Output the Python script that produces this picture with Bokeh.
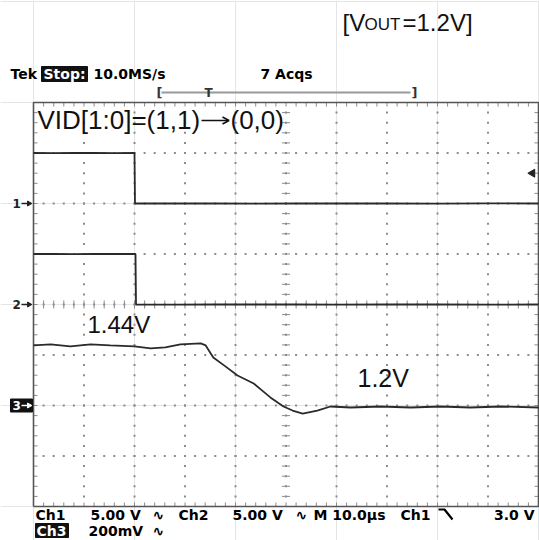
import numpy as np
from bokeh.plotting import figure
from bokeh.models import Range1d
from bokeh.core.properties import value
from bokeh.embed import file_html
from bokeh.resources import INLINE

# ---------------- data (time in microseconds, voltages in volts) ----------------
ch1_t = [-20.0, -16.0, -12.0, -8.0, -4.0, 0.0, 0.1, 8.0, 16.0, 24.0, 32.0, 40.0, 50.0, 60.0, 70.0, 80.0]
ch1_v = [5.0, 4.98, 5.02, 5.0, 4.98, 5.0, 0.0, 0.02, 0.0, -0.02, 0.0, 0.02, 0.0, -0.02, 0.02, 0.0]

ch2_t = [-20.0, -16.0, -12.0, -8.0, -4.0, 0.2, 0.3, 8.0, 16.0, 24.0, 32.0, 40.0, 50.0, 60.0, 70.0, 80.0]
ch2_v = [5.0, 5.02, 4.98, 5.0, 5.02, 5.0, 0.0, -0.02, 0.02, 0.0, 0.02, -0.02, 0.0, 0.02, -0.02, 0.0]

ch3_t = [-20.0, -16.6, -12.7, -8.7, -4.8, 0.0, 3.2, 6.1, 9.1, 13.1, 14.1, 15.6, 18.0, 20.4,
         23.6, 25.3, 26.9, 29.5, 31.3, 33.3, 36.2, 38.8, 42.8, 48.7, 54.7, 60.6, 66.5, 72.5, 80.0]
ch3_v = [1.438, 1.442, 1.434, 1.442, 1.438, 1.434, 1.426, 1.430, 1.442, 1.446, 1.438, 1.390, 1.355, 1.319,
         1.287, 1.259, 1.232, 1.196, 1.180, 1.168, 1.180, 1.196, 1.192, 1.196, 1.192, 1.196, 1.192, 1.196, 1.192]

# scope settings
ch1_scale, ch1_pos = 5.0, 6.0      # V/div, marker division
ch2_scale, ch2_pos = 5.0, 4.0
ch3_scale, ch3_pos, ch3_ref = 0.2, 2.0, 1.2
time_per_div, t_left = 10.0, -20.0
n_xdiv, n_ydiv = 10, 8
trig_level = 3.0

# ---------------- helpers for placing decoration text (pixel -> data) ----------------
def RX(px):
    return t_left + (px - 33.0) / 5.05

def RY(py):
    return (506.0 - py) / 50.5

W, H = 539, 540
p = figure(width=W, height=H, output_backend="svg", toolbar_location=None,
           x_axis_location=None, y_axis_location=None, min_border=0,
           x_range=Range1d(RX(0.0), RX(539.0)), y_range=Range1d(RY(540.0), RY(0.0)))
p.outline_line_color = None
p.background_fill_color = "white"
p.border_fill_color = "white"

t_right = t_left + n_xdiv * time_per_div
grid_col = "#8c8c8c"

# ---------------- graticule ----------------
xs, ys = [], []
for i in range(1, n_xdiv):
    for k in np.arange(1, n_ydiv * 5):
        xs.append(t_left + i * time_per_div)
        ys.append(k / 5.0)
for j in range(1, n_ydiv):
    for k in np.arange(1, n_xdiv * 5):
        xs.append(t_left + k / 5.0 * time_per_div)
        ys.append(float(j))
p.scatter(xs, ys, marker="square", size=2, color=grid_col, line_color=None)

tx_len = 0.8   # ~4 px in time units
ty_len = 0.08  # ~4 px in divisions
cx = t_left + 5 * time_per_div
kk = np.arange(1, n_ydiv * 5) / 5.0
p.segment(x0=[cx - tx_len] * len(kk), y0=kk, x1=[cx + tx_len] * len(kk), y1=kk, line_color=grid_col, line_width=1)
kx = t_left + np.arange(1, n_xdiv * 5) / 5.0 * time_per_div
p.segment(x0=kx, y0=[4 - ty_len] * len(kx), x1=kx, y1=[4 + ty_len] * len(kx), line_color=grid_col, line_width=1)
p.segment(x0=kx, y0=[n_ydiv] * len(kx), x1=kx, y1=[n_ydiv - ty_len] * len(kx), line_color=grid_col, line_width=1)
p.segment(x0=kx, y0=[0] * len(kx), x1=kx, y1=[ty_len] * len(kx), line_color=grid_col, line_width=1)
p.segment(x0=[t_left] * len(kk), y0=kk, x1=[t_left + tx_len] * len(kk), y1=kk, line_color=grid_col, line_width=1)
p.segment(x0=[t_right] * len(kk), y0=kk, x1=[t_right - tx_len] * len(kk), y1=kk, line_color=grid_col, line_width=1)
p.line([t_left, t_right, t_right, t_left, t_left], [0, 0, n_ydiv, n_ydiv, 0], line_color="#555555", line_width=1.6)

# ---------------- traces ----------------
trace_col = "#2a2a2a"
p.line(ch1_t, [ch1_pos + v / ch1_scale for v in ch1_v], line_color=trace_col, line_width=1.8)
p.line(ch2_t, [ch2_pos + v / ch2_scale for v in ch2_v], line_color=trace_col, line_width=1.8)
p.line(ch3_t, [ch3_pos + (v - ch3_ref) / ch3_scale for v in ch3_v], line_color=trace_col, line_width=1.8)

# trigger level marker (right edge)
p.scatter([t_right - 1.2], [ch1_pos + trig_level / ch1_scale], marker="triangle", angle=np.pi / 2,
          size=8, color="#222222")

# ---------------- texts ----------------
def T(x, y, s, size, font="DejaVu Sans", style="bold", color="black", align="left"):
    p.text([x], [y], text=[s], text_font=value(font), text_font_style=style, text_font_size=size,
           text_color=color, text_align=align, text_baseline="middle")

# ---------------- channel markers ----------------
def ch_marker(label, ylev, inverted=False):
    if inverted:
        p.quad(left=[RX(10)], right=[RX(32)], bottom=[ylev - 6.5 / 50.5], top=[ylev + 6.5 / 50.5],
               color="#111111")
        col = "white"
    else:
        col = "#222222"
    T(RX(12), ylev, label, "12px", color=col)
    p.segment([RX(21)], [ylev], [RX(29)], [ylev], line_color=col, line_width=1.5)
    p.scatter([RX(28.5)], [ylev], marker="triangle", angle=-np.pi / 2, size=5, color=col)

ch_marker("1", ch1_pos)
ch_marker("2", ch2_pos)
ch_marker("3", ch3_pos, inverted=True)

# [VOUT=1.2V]
vy = RY(21.7)
T(RX(342), vy, "[V", "24px", font="Liberation Sans", style="normal", color="#111111")
T(RX(364), RY(24.3), "OUT", "17px", font="Liberation Sans", style="normal", color="#111111")
T(RX(402), vy, "=1.2V]", "24px", font="Liberation Sans", style="normal", color="#111111")

# header
hy = RY(73.5)
T(RX(10), hy, "Tek", "14px")
p.quad(left=[RX(41)], right=[RX(87)], bottom=[RY(81)], top=[RY(66)], color="#111111")
T(RX(43), hy, "Stop:", "14px", color="white")
T(RX(93), hy, "10.0MS/s", "14px")
T(RX(260), hy, "7 Acqs", "14px")

# record bracket
p.segment([RX(161)], [RY(92)], [RX(410)], [RY(92)], line_color="#9a9a9a", line_width=2)
T(RX(156), RY(92), "[", "13px", color="#333333")
T(RX(411), RY(92), "]", "13px", color="#333333")
T(RX(208), RY(92), "T", "12px", color="#333333", align="center")

# annotations inside graticule
T(RX(37), RY(119.5), "VID[1:0]=(1,1)", "26px", font="Liberation Sans", style="normal", color="#111111")
p.line([RX(201), RX(228)], [RY(120), RY(120)], line_color="#111111", line_width=1.6)
p.line([RX(222), RX(228.5), RX(222)], [RY(116.5), RY(120), RY(123.5)], line_color="#111111", line_width=1.6)
T(RX(230), RY(119.5), "(0,0)", "26px", font="Liberation Sans", style="normal", color="#111111")
T(RX(87), RY(323.5), "1.44V", "24px", font="Liberation Sans", style="normal", color="#111111")
T(RX(357), RY(377.5), "1.2V", "25px", font="Liberation Sans", style="normal", color="#111111")

# bottom status lines
by1 = RY(514)
T(RX(35), by1, "Ch1", "14px")
T(RX(90), by1, "5.00 V", "14px")
T(RX(152), by1, "\u223f", "14px")
T(RX(178), by1, "Ch2", "14px")
T(RX(232), by1, "5.00 V", "14px")
T(RX(295), by1, "\u223f", "14px")
T(RX(313), by1, "M 10.0\u00b5s", "14px")
T(RX(400), by1, "Ch1", "14px")
p.line([RX(438), RX(444), RX(452)], [RY(509), RY(509), RY(519)], line_color="black", line_width=2.2)
T(RX(534), by1, "3.0 V", "14px", align="right")

by2 = RY(530)
p.quad(left=[RX(35)], right=[RX(68)], bottom=[RY(537)], top=[RY(523)], color="#111111")
T(RX(36), by2, "Ch3", "14px", color="white")
T(RX(88), by2, "200mV", "14px")
T(RX(152), by2, "\u223f", "14px")

open("out.html", "w").write(file_html(p, INLINE))
